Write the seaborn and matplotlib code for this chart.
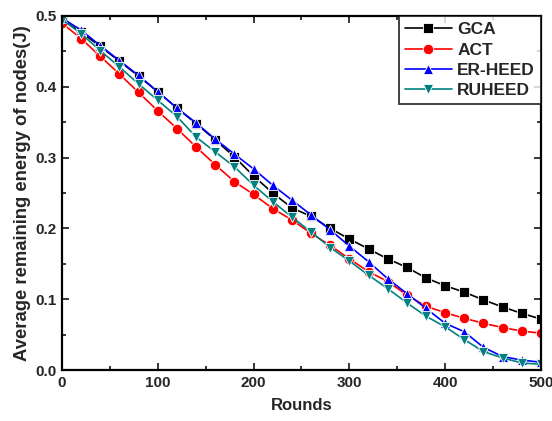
import numpy as np
import pandas as pd
import matplotlib
matplotlib.use("Agg")
import matplotlib.pyplot as plt
from matplotlib.ticker import MultipleLocator
import seaborn as sns

# Data
rounds = list(range(0, 501, 20))
gca = [0.495, 0.477, 0.457, 0.436, 0.415, 0.393, 0.370, 0.348, 0.325, 0.301,
       0.274, 0.250, 0.229, 0.217, 0.200, 0.185, 0.171, 0.157, 0.145, 0.130,
       0.119, 0.110, 0.099, 0.089, 0.080, 0.072]
act = [0.490, 0.468, 0.443, 0.418, 0.392, 0.366, 0.341, 0.315, 0.290, 0.266,
       0.248, 0.228, 0.212, 0.193, 0.176, 0.157, 0.139, 0.125, 0.106, 0.090,
       0.081, 0.073, 0.066, 0.060, 0.055, 0.052]
er_heed = [0.497, 0.480, 0.458, 0.437, 0.416, 0.393, 0.370, 0.349, 0.326, 0.305,
           0.284, 0.261, 0.240, 0.219, 0.198, 0.175, 0.153, 0.129, 0.108, 0.087,
           0.066, 0.054, 0.032, 0.019, 0.014, 0.011]
ruheed = [0.495, 0.475, 0.451, 0.428, 0.404, 0.381, 0.358, 0.329, 0.308, 0.287,
          0.261, 0.238, 0.216, 0.195, 0.173, 0.154, 0.134, 0.115, 0.095, 0.076,
          0.061, 0.043, 0.026, 0.017, 0.010, 0.008]

series = {"GCA": gca, "ACT": act, "ER-HEED": er_heed, "RUHEED": ruheed}
palette = {"GCA": "black", "ACT": "#ff0000", "ER-HEED": "#0000ff", "RUHEED": "#008080"}
markers = {"GCA": "s", "ACT": "o", "ER-HEED": "^", "RUHEED": "v"}

df = pd.concat([pd.DataFrame({"Rounds": rounds, "energy": v, "method": k})
                for k, v in series.items()], ignore_index=True)

sns.set_style("ticks")
plt.rcParams['font.family'] = ['Liberation Sans', 'DejaVu Sans']
plt.rcParams['font.weight'] = 'bold'

fig = plt.figure(figsize=(5.52, 4.21), dpi=100)
ax = fig.add_axes([0.1123, 0.1211, 0.8677, 0.8409])

sns.lineplot(data=df, x="Rounds", y="energy", hue="method", style="method",
             palette=palette, markers=markers, dashes=False, linewidth=1.2,
             markersize=7.5, markeredgewidth=0.6, ax=ax)

ax.set_xlim(0, 500)
ax.set_ylim(0, 0.5)
ax.xaxis.set_major_locator(MultipleLocator(100))
ax.xaxis.set_minor_locator(MultipleLocator(50))
ax.yaxis.set_major_locator(MultipleLocator(0.1))
ax.yaxis.set_minor_locator(MultipleLocator(0.05))
ax.tick_params(which='both', direction='in', top=True, right=True, width=1.3,
               labelsize=11, pad=4)
ax.tick_params(which='major', length=5)
ax.tick_params(which='minor', length=3)
for lab in ax.get_xticklabels() + ax.get_yticklabels():
    lab.set_fontweight('bold')
for sp in ax.spines.values():
    sp.set_linewidth(1.6)
    sp.set_color('black')

ax.set_xlabel("Rounds", fontsize=12, fontweight='bold', labelpad=6)
ax.set_ylabel("Average remaining energy of nodes(J)", fontsize=13.3, fontweight='bold', labelpad=3)

leg = ax.legend(loc='upper right', borderaxespad=0, fontsize=12.5, handlelength=2.7,
                frameon=True, fancybox=False, edgecolor='black', labelspacing=0.3,
                handletextpad=0.3, borderpad=0.35)
leg.get_frame().set_linewidth(1.3)
leg.set_title(None)
for t in leg.get_texts():
    t.set_fontweight('bold')

fig.savefig("out.png", dpi=100, facecolor='white')
